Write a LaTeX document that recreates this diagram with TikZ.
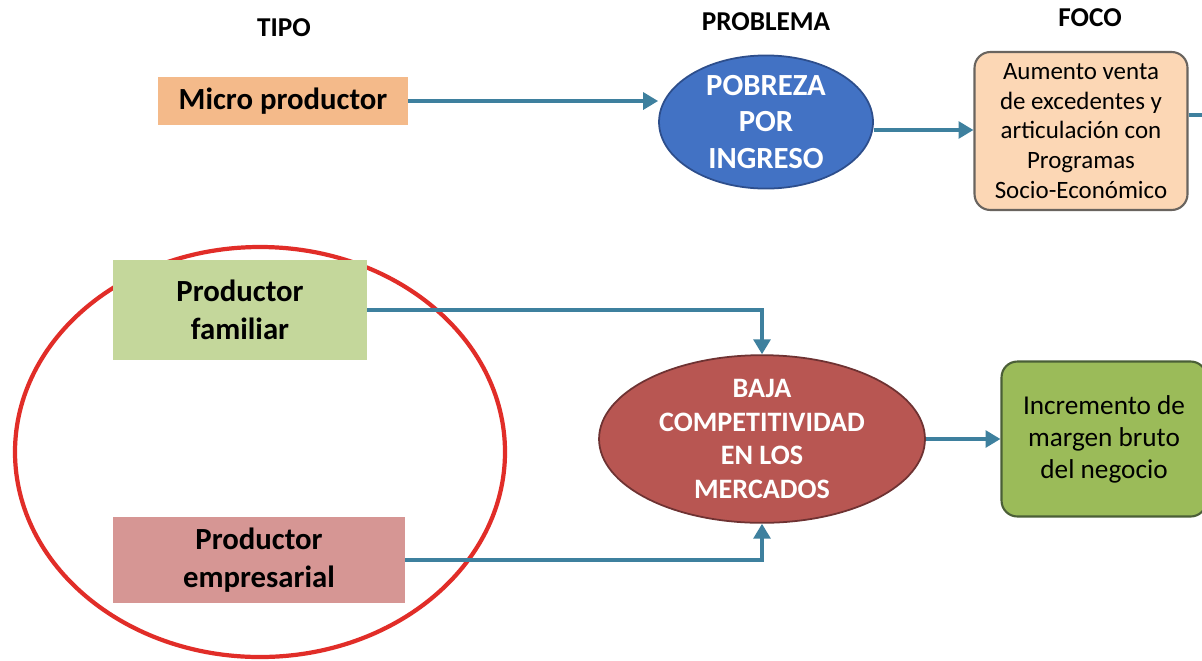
\documentclass[tikz,border=0pt]{standalone}
\usepackage{fontspec}
\setmainfont{Carlito}
\usetikzlibrary{shapes.geometric,arrows.meta}
\definecolor{arr}{RGB}{62,128,158}
\definecolor{micro}{RGB}{244,186,138}
\definecolor{blueel}{RGB}{66,114,196}
\definecolor{blueelb}{RGB}{45,78,140}
\definecolor{peach}{RGB}{252,215,181}
\definecolor{peachb}{RGB}{105,100,95}
\definecolor{famg}{RGB}{196,215,155}
\definecolor{empr}{RGB}{214,150,148}
\definecolor{redel}{RGB}{184,86,82}
\definecolor{redelb}{RGB}{110,50,50}
\definecolor{greenb}{RGB}{155,187,89}
\definecolor{greenbb}{RGB}{75,95,55}
\definecolor{circ}{RGB}{225,45,40}
\tikzset{
  px/.style={x=0.02cm,y=-0.02cm},
  hdr/.style={font=\fontsize{15.5}{18}\selectfont\bfseries, inner sep=0pt},
  conn/.style={draw=arr, line width=2.3pt, -{Triangle[length=8.5pt,width=9.5pt]}},
  line/.style={draw=arr, line width=2.3pt},
  tipobox/.style={inner sep=0pt, align=center, font=\fontsize{17.5}{21.5}\selectfont\bfseries},
  probel/.style={ellipse, inner sep=0pt, align=center, text=white, font=\bfseries, line width=1pt},
  focobox/.style={rounded corners=9pt, inner sep=0pt, align=center, line width=1.2pt},
}
\begin{document}
\begin{tikzpicture}[px]
\useasboundingbox[fill=white] (0,0) rectangle (1202,660);
% headers
\node[hdr] (h1) at (284,28) {TIPO};
\node[hdr] (h2) at (766,22) {PROBLEMA};
\node[hdr] (h3) at (1090,18) {FOCO};
% circle
\draw[circ, line width=2.4pt] (260,452) ellipse [x radius=245, y radius=205];
% tipo boxes
\node[tipobox, fill=micro, minimum width=5cm, minimum height=0.96cm] (micro) at (283,101) {Micro productor};
\node[tipobox, fill=famg, minimum width=5.08cm, minimum height=2cm] (fam) at (240,310) {Productor\\familiar};
\node[tipobox, fill=empr, minimum width=5.84cm, minimum height=1.72cm] (emp) at (259,560) {Productor\\empresarial};
% problem ellipses
\node[probel, fill=blueel, draw=blueelb, minimum width=4.28cm, minimum height=2.26cm, font=\fontsize{17.5}{21}\selectfont\bfseries] (pob) at (766,122) {POBREZA\\POR\\INGRESO};
\node[probel, fill=redel, draw=redelb, minimum width=6.52cm, minimum height=2.56cm, font=\fontsize{16}{19}\selectfont\bfseries] (baja) at (762,439) {BAJA\\COMPETITIVIDAD\\EN LOS\\MERCADOS};
% foco boxes
\node[focobox, fill=peach, draw=peachb, minimum width=4.26cm, minimum height=3.16cm, font=\fontsize{14.2}{17}\selectfont] (f1) at (1081,131) {Aumento venta\\de excedentes y\\articulación con\\Programas\\Socio-Económico};
\node[focobox, fill=greenb, draw=greenbb, minimum width=4.1cm, minimum height=3.1cm, font=\fontsize{15.5}{18.2}\selectfont] (f2) at (1104,439) {Incremento de\\margen bruto\\del negocio};
\coordinate (out1) at (1202,115);
% connectors
\draw[conn] (micro.east) -- (pob.west |- micro.east);
\draw[conn] (pob.east |- 0,130) -- (f1.west |- 0,130);
\draw[line] (f1.east |- out1) -- (out1);
\draw[conn] (fam.east) -| (baja.north);
\draw[conn] (emp.east) -| (baja.south);
\draw[conn] (baja.east) -- (f2.west |- baja.east);
\end{tikzpicture}
\end{document}
